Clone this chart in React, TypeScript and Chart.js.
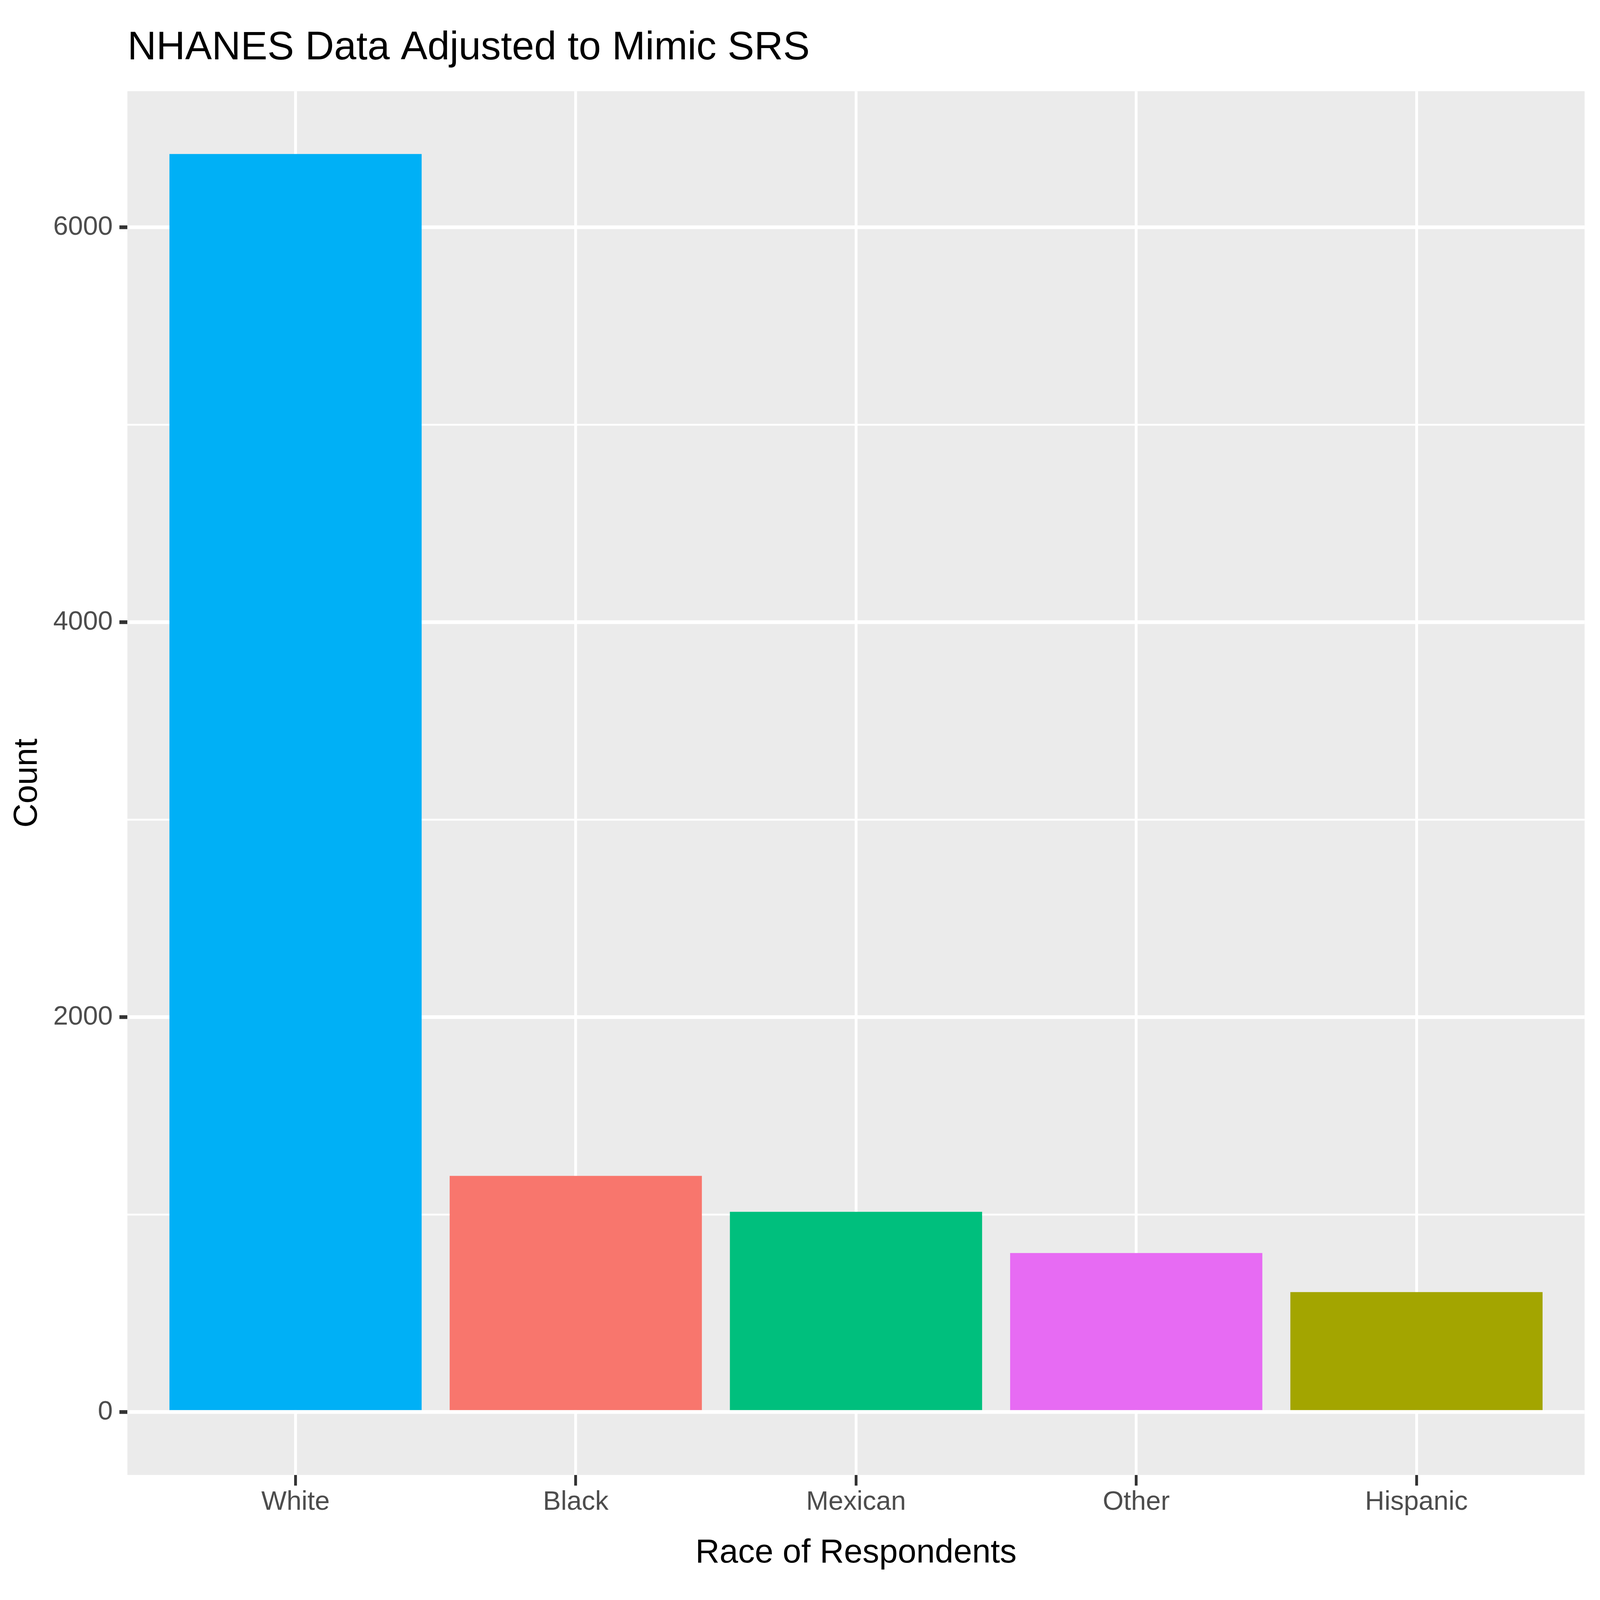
import { useEffect, useRef } from 'react'
import { Chart, registerables } from 'chart.js'

Chart.register(...registerables)

// values
const categories = ['White', 'Black', 'Mexican', 'Other', 'Hispanic']
const counts = [6372, 1196, 1014, 805, 607]
const barColors = ['#00B0F6', '#F8766D', '#00BF7D', '#E76BF3', '#A3A500']
const yMajorTicks = [0, 2000, 4000, 6000]
const yMinorTicks = [1000, 3000, 5000]

const FONT = "'Liberation Sans', Arial, Helvetica, sans-serif"

export default function App() {
  const canvasRef = useRef<HTMLCanvasElement>(null)
  const chartRef = useRef<Chart | null>(null)

  useEffect(() => {
    if (!canvasRef.current) return
    if (chartRef.current) chartRef.current.destroy()

    document.body.style.margin = '0'
    document.body.style.overflow = 'hidden'

    // layout was measured on the 8000x6000 reference; map it onto the real window
    const W = window.innerWidth
    const H = window.innerHeight
    const kx = W / 8000
    const ky = H / 6000
    const sx = (v: number) => v * kx
    const sy = (v: number) => v * ky
    const fs = (v: number) => v * Math.min(kx, ky)

    const canvas = canvasRef.current
    canvas.style.width = `${W}px`
    canvas.style.height = `${H}px`
    canvas.width = W
    canvas.height = H

    const panelBg = {
      id: 'panelBg',
      beforeDraw(chart: Chart) {
        const { ctx, chartArea: a } = chart
        ctx.save()
        ctx.fillStyle = '#EBEBEB'
        ctx.fillRect(a.left, a.top, a.right - a.left, a.bottom - a.top)
        ctx.restore()
      },
    }

    const plotTitle = {
      id: 'plotTitle',
      afterDraw(chart: Chart) {
        const { ctx, chartArea: a } = chart
        ctx.save()
        ctx.fillStyle = '#000000'
        ctx.font = `${fs(200)}px ${FONT}`
        ctx.textAlign = 'left'
        ctx.textBaseline = 'alphabetic'
        ctx.fillText('NHANES Data Adjusted to Mimic SRS', a.left, a.top - sy(120))
        ctx.restore()
      },
    }

    const allY = [...yMajorTicks, ...yMinorTicks].sort((a, b) => a - b)

    chartRef.current = new Chart(canvas, {
      type: 'bar',
      data: {
        datasets: [
          {
            data: categories.map((c, i) => ({ x: i + 1, y: counts[i] })),
            backgroundColor: barColors,
            borderWidth: 0,
            barPercentage: 0.9,
            categoryPercentage: 1,
          },
        ],
      },
      options: {
        animation: false,
        responsive: false,
        layout: { padding: { top: sy(342), right: sx(77), left: 0, bottom: 0 } },
        plugins: {
          legend: { display: false },
          tooltip: { enabled: false },
          title: { display: false },
        },
        scales: {
          x: {
            type: 'linear',
            min: 0.4,
            max: 5.6,
            offset: false,
            afterBuildTicks: (scale: any) => {
              scale.ticks = categories.map((c, i) => ({ value: i + 1 }))
            },
            afterFit: (scale: any) => {
              scale.height = H - sy(5531)
            },
            border: { display: false },
            grid: {
              offset: false,
              color: '#FFFFFF',
              lineWidth: sx(14),
              tickColor: '#333333',
              tickWidth: sx(14),
              tickLength: sy(40),
            },
            ticks: {
              padding: sy(2),
              color: '#4D4D4D',
              font: { family: FONT, size: fs(134) },
              maxRotation: 0,
              autoSkip: false,
              callback: (v: any) => categories[Math.round(Number(v)) - 1] ?? '',
            },
            title: {
              display: true,
              text: 'Race of Respondents',
              color: '#000000',
              font: { family: FONT, size: fs(167) },
              padding: { top: 0, bottom: sy(175) - fs(100) },
            },
          },
          y: {
            type: 'linear',
            min: -319,
            max: 6690,
            afterBuildTicks: (scale: any) => {
              scale.ticks = allY.map((v) => ({ value: v }))
            },
            afterFit: (scale: any) => {
              scale.width = sx(637)
            },
            border: { display: false },
            grid: {
              color: '#FFFFFF',
              lineWidth: (c: any) => (yMajorTicks.includes(c.tick?.value) ? sy(14) : sy(7)),
              tickColor: (c: any) =>
                yMajorTicks.includes(c.tick?.value) ? '#333333' : 'rgba(0,0,0,0)',
              tickWidth: sy(14),
              tickLength: sx(40),
            },
            ticks: {
              padding: sx(33),
              color: '#4D4D4D',
              font: { family: FONT, size: fs(134) },
              autoSkip: false,
              callback: (v: any) => (yMajorTicks.includes(Number(v)) ? String(v) : ''),
            },
            title: {
              display: true,
              text: 'Count',
              color: '#000000',
              font: { family: FONT, size: fs(167) },
              padding: { top: sx(137) - fs(100), bottom: 0 },
            },
          },
        },
      },
      plugins: [panelBg, plotTitle],
    })

    return () => {
      if (chartRef.current) {
        chartRef.current.destroy()
        chartRef.current = null
      }
    }
  }, [])

  return (
    <div style={{ position: 'fixed', left: 0, top: 0, background: '#FFFFFF' }}>
      <canvas ref={canvasRef} style={{ display: 'block' }} />
    </div>
  )
}
